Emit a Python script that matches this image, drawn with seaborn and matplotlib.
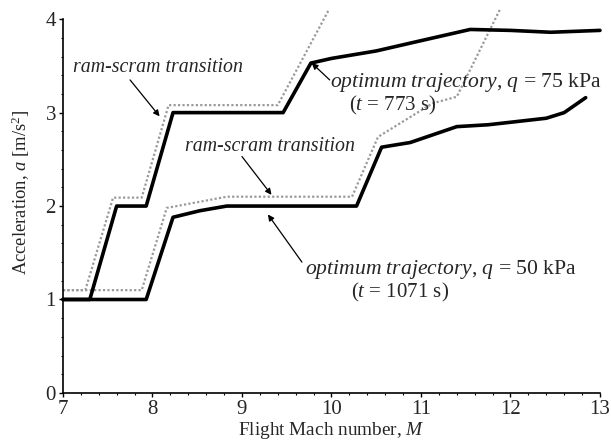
import numpy as np
import pandas as pd
import seaborn as sns
import matplotlib.pyplot as plt
from matplotlib.ticker import MultipleLocator

# q = 75 kPa optimum trajectory and its ram-scram transition bound
mach_75 = [7.0, 7.3, 7.6, 7.93, 8.23, 9.46, 9.77, 10.0, 10.5, 11.0, 11.55, 12.0, 12.45, 13.0]
acc_75 = [1.0, 1.0, 2.0, 2.0, 3.0, 3.0, 3.53, 3.58, 3.66, 3.77, 3.89, 3.88, 3.86, 3.88]
mach_75_rs = [7.0, 7.25, 7.56, 7.88, 8.18, 9.4, 9.97]
acc_75_rs = [1.1, 1.1, 2.09, 2.09, 3.08, 3.08, 4.1]

# q = 50 kPa optimum trajectory and its ram-scram transition bound
mach_50 = [7.0, 7.93, 8.23, 8.53, 8.83, 10.28, 10.56, 10.88, 11.4, 11.75, 12.03, 12.4, 12.6, 12.84]
acc_50 = [1.0, 1.0, 1.88, 1.95, 2.0, 2.0, 2.63, 2.68, 2.85, 2.87, 2.9, 2.94, 3.0, 3.16]
mach_50_rs = [7.0, 7.88, 8.16, 8.83, 10.23, 10.52, 11.13, 11.4, 11.88]
acc_50_rs = [1.1, 1.1, 1.98, 2.1, 2.1, 2.74, 3.1, 3.17, 4.1]

sns.set_theme(style="ticks")
plt.rcParams['font.family'] = ['Liberation Serif', 'DejaVu Serif']
plt.rcParams['mathtext.fontset'] = 'custom'
plt.rcParams['mathtext.rm'] = 'Liberation Serif'
plt.rcParams['mathtext.it'] = 'Liberation Serif:italic'
plt.rcParams['font.size'] = 14

fig = plt.figure(figsize=(6.11, 4.46), dpi=100)
ax = fig.add_axes([0.103, 0.119, 0.879, 0.838])

grey = '#9a9a9a'
for m, a in [(mach_75_rs, acc_75_rs), (mach_50_rs, acc_50_rs)]:
    sns.lineplot(x=m, y=a, ax=ax, color=grey, lw=1.6, linestyle=(0, (1, 1)),
                 sort=False, estimator=None, clip_on=False)
for m, a in [(mach_75, acc_75), (mach_50, acc_50)]:
    sns.lineplot(x=m, y=a, ax=ax, color='black', lw=2.6, sort=False,
                 estimator=None, clip_on=False)

ax.set_xlim(7, 13)
ax.set_ylim(0, 4)
ax.xaxis.set_major_locator(MultipleLocator(1))
ax.yaxis.set_major_locator(MultipleLocator(1))
ax.xaxis.set_minor_locator(MultipleLocator(0.2))
ax.yaxis.set_minor_locator(MultipleLocator(0.2))
ax.tick_params(which='major', direction='out', length=3, width=1, labelsize=15, pad=2, color='black')
ax.tick_params(which='minor', direction='out', length=1.5, width=0.8, color='black')
for s in ['top', 'right']:
    ax.spines[s].set_visible(False)
for s in ['left', 'bottom']:
    ax.spines[s].set_color('black')
    ax.spines[s].set_linewidth(1.2)

ax.set_xlabel(r'Flight Mach number, $M$', fontsize=13.9, labelpad=1)
ax.set_ylabel(r'Acceleration, $a$ [m/s$^2$]', fontsize=13.4)
ax.yaxis.set_label_coords(-0.058, 0.537)

arrow = dict(arrowstyle='-|>', color='black', lw=0.9, mutation_scale=9, shrinkA=0, shrinkB=0)
ax.text(8.06, 3.48, 'ram-scram transition', fontsize=14.3, style='italic', ha='center', va='center')
ax.annotate('', xy=(8.08, 2.96), xytext=(7.75, 3.35), arrowprops=arrow)
ax.text(9.31, 2.64, 'ram-scram transition', fontsize=14.3, style='italic', ha='center', va='center')
ax.annotate('', xy=(9.33, 2.12), xytext=(9.0, 2.53), arrowprops=arrow)

ax.text(9.98, 3.32, r'$\it{optimum\ trajectory}$, $q$ = 75 kPa', fontsize=15.6, ha='left', va='center')
ax.annotate('', xy=(9.78, 3.53), xytext=(9.98, 3.35), arrowprops=arrow)
ax.text(10.68, 3.08, r'($t$ = 773 s)', fontsize=15, ha='center', va='center')
ax.text(9.70, 1.32, r'$\it{optimum\ trajectory}$, $q$ = 50 kPa', fontsize=15.6, ha='left', va='center')
ax.annotate('', xy=(9.29, 1.91), xytext=(9.67, 1.40), arrowprops=arrow)
ax.text(10.77, 1.08, r'($t$ = 1071 s)', fontsize=15, ha='center', va='center')

fig.savefig('out.png', dpi=100)
